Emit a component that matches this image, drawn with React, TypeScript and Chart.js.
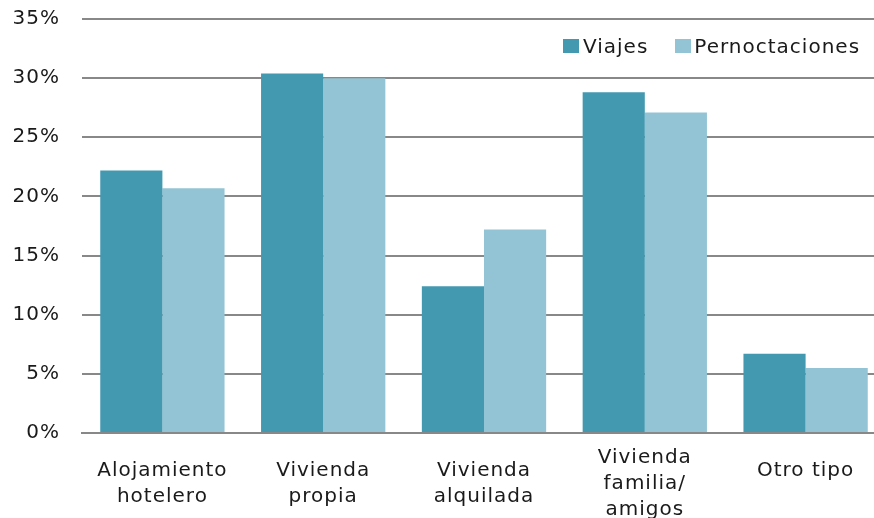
import React, { useEffect, useRef } from "react";
import { Chart, registerables } from "chart.js";

Chart.register(...registerables);

const categories: string[][] = [
  ["Alojamiento", "hotelero"],
  ["Vivienda", "propia"],
  ["Vivienda", "alquilada"],
  ["Vivienda", "familia/", "amigos"],
  ["Otro tipo", ""],
];
const viajes = [22.2, 30.4, 12.4, 28.8, 6.7];
const pernoctaciones = [20.7, 30.0, 17.2, 27.1, 5.5];
const seriesNames = ["Viajes", "Pernoctaciones"];
const yMin = 0;
const yMax = 35;
const yStep = 5;

const DARK = "#4399b0";
const LIGHT = "#93c4d5";
const GRID = "#888888";
const TEXT = "#1a1a1a";
const FONT = "'DejaVu Sans', Verdana, sans-serif";

const spacingPlugin = {
  id: "spacing",
  beforeLayout(chart: any) {
    chart.ctx.letterSpacing = "1px";
  },
  beforeDraw(chart: any) {
    chart.ctx.letterSpacing = "1px";
  },
};

export default function App() {
  const ref = useRef<HTMLCanvasElement>(null);
  useEffect(() => {
    if (!ref.current) return;
    const chart = new Chart(ref.current, {
      type: "bar",
      data: {
        labels: categories,
        datasets: [
          {
            label: seriesNames[0],
            data: viajes,
            backgroundColor: DARK,
            borderWidth: 0,
            categoryPercentage: 0.773,
            barPercentage: 1,
          },
          {
            label: seriesNames[1],
            data: pernoctaciones,
            backgroundColor: LIGHT,
            borderWidth: 0,
            categoryPercentage: 0.773,
            barPercentage: 1,
          },
        ],
      },
      options: {
        animation: false,
        responsive: false,
        devicePixelRatio: 1,
        layout: { padding: { top: 19, right: 6, left: 0, bottom: 0 } },
        plugins: {
          legend: { display: false },
          tooltip: { enabled: false },
        },
        scales: {
          y: {
            min: yMin,
            max: yMax,
            ticks: {
              stepSize: yStep,
              callback: (v: any) => v + "%",
              font: { family: FONT, size: 20 },
              color: TEXT,
              padding: 22,
            },
            grid: { color: GRID, lineWidth: 2, drawTicks: false },
            border: { display: false },
            afterFit: (s: any) => {
              s.width = 82;
              s.paddingTop = 0;
              s.paddingBottom = 0;
            },
          },
          x: {
            grid: { display: false, drawTicks: false },
            border: { display: true, color: GRID, width: 2 },
            ticks: {
              font: { family: FONT, size: 20, lineHeight: 1.3 },
              color: TEXT,
              crossAlign: "center",
              padding: 25,
              maxRotation: 0,
              autoSkip: false,
            },
            afterFit: (s: any) => {
              s.height = 85;
              s.paddingLeft = 0;
              s.paddingRight = 0;
            },
          },
        },
      },
      plugins: [spacingPlugin],
    });
    return () => chart.destroy();
  }, []);

  const legendText: React.CSSProperties = {
    fontFamily: FONT,
    fontSize: 20,
    letterSpacing: "1px",
    color: TEXT,
    lineHeight: "20px",
  };

  return (
    <div
      style={{
        position: "absolute",
        left: 0,
        top: 0,
        width: 874,
        height: 518,
        overflow: "hidden",
        background: "#fff",
      }}
    >
      <canvas ref={ref} width={892} height={518} style={{ display: "block" }} />
      <div
        style={{
          position: "absolute",
          left: 563,
          top: 36,
          display: "flex",
          alignItems: "center",
          whiteSpace: "nowrap",
        }}
      >
        <span style={{ width: 16, height: 14, background: DARK, display: "inline-block", marginRight: 4 }} />
        <span style={legendText}>{seriesNames[0]}</span>
        <span style={{ width: 16, height: 14, background: LIGHT, display: "inline-block", marginLeft: 27, marginRight: 3 }} />
        <span style={legendText}>{seriesNames[1]}</span>
      </div>
    </div>
  );
}
